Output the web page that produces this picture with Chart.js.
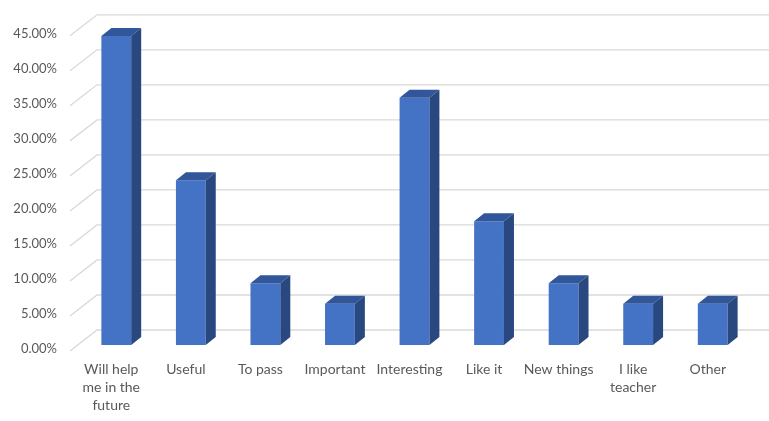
<!DOCTYPE html>
<html>
<head>
<meta charset="utf-8">
<script src="https://cdn.jsdelivr.net/npm/chart.js@4"></script>
<style>
  html, body { margin: 0; padding: 0; background: #fff; }
  #wrap { width: 769px; height: 421px; }
</style>
</head>
<body>
<div id="wrap"><canvas id="chart" width="769" height="421"></canvas></div>
<script>
const categories = [
  ['Will help', 'me in the', 'future'],
  'Useful',
  'To pass',
  'Important',
  'Interesting',
  'Like it',
  'New things',
  ['I like', 'teacher'],
  'Other'
];
const percentValues = [44.12, 23.53, 8.82, 5.88, 35.29, 17.65, 8.82, 5.88, 5.88];
const tickValues = [0, 5, 10, 15, 20, 25, 30, 35, 40, 45];

// fake 3D look: back wall grid + side/top faces of the bars
const depthX = 10, depthY = 8;
const wallX = 97, wallDy = 15;

const threeD = {
  id: 'threeD',
  beforeDatasetsDraw(chart) {
    const ctx = chart.ctx;
    const y = chart.scales.y;
    ctx.save();
    ctx.strokeStyle = '#d9d9d9';
    ctx.lineWidth = 1.3;
    tickValues.forEach(v => {
      const py = y.getPixelForValue(v);
      ctx.beginPath();
      ctx.moveTo(70, py + 6);
      ctx.lineTo(wallX, py - wallDy);
      ctx.lineTo(chart.width, py - wallDy);
      ctx.stroke();
    });
    ctx.restore();
  },
  afterDatasetsDraw(chart) {
    const ctx = chart.ctx;
    const meta = chart.getDatasetMeta(0);
    ctx.save();
    meta.data.forEach(bar => {
      const x1 = bar.x - bar.width / 2;
      const x2 = bar.x + bar.width / 2;
      const yt = bar.y, yb = bar.base;
      // top face
      ctx.fillStyle = '#31569A';
      ctx.beginPath();
      ctx.moveTo(x1, yt);
      ctx.lineTo(x1 + depthX, yt - depthY);
      ctx.lineTo(x2 + depthX, yt - depthY);
      ctx.lineTo(x2, yt);
      ctx.closePath();
      ctx.fill();
      // side face
      ctx.fillStyle = '#29487F';
      ctx.beginPath();
      ctx.moveTo(x2, yt);
      ctx.lineTo(x2 + depthX, yt - depthY);
      ctx.lineTo(x2 + depthX, yb - depthY);
      ctx.lineTo(x2, yb);
      ctx.closePath();
      ctx.fill();
    });
    ctx.restore();
  }
};

new Chart(document.getElementById('chart'), {
  type: 'bar',
  data: {
    labels: categories,
    datasets: [{
      data: percentValues,
      backgroundColor: '#4472C4',
      borderWidth: 0,
      categoryPercentage: 1,
      barPercentage: 0.4
    }]
  },
  options: {
    responsive: false,
    animation: false,
    layout: { padding: { top: 27, right: 19, left: 0, bottom: 0 } },
    plugins: { legend: { display: false }, tooltip: { enabled: false } },
    scales: {
      x: {
        grid: { display: false, drawTicks: false },
        border: { display: false },
        ticks: {
          color: '#595959',
          font: { family: 'Lato, "Noto Sans", sans-serif', size: 14, lineHeight: 1.3 },
          padding: 15,
          maxRotation: 0,
          autoSkip: false,
          labelOffset: -5
        },
        afterFit(scale) { scale.height = 76; }
      },
      y: {
        min: 0,
        max: 45,
        grid: { display: false, drawTicks: false },
        border: { display: false },
        ticks: {
          stepSize: 5,
          color: '#595959',
          font: { family: 'Lato, "Noto Sans", sans-serif', size: 13 },
          padding: 22,
          labelOffset: 4,
          callback: v => v.toFixed(2) + '%'
        },
        afterFit(scale) { scale.width = 79; }
      }
    }
  },
  plugins: [threeD]
});
</script>
</body>
</html>
